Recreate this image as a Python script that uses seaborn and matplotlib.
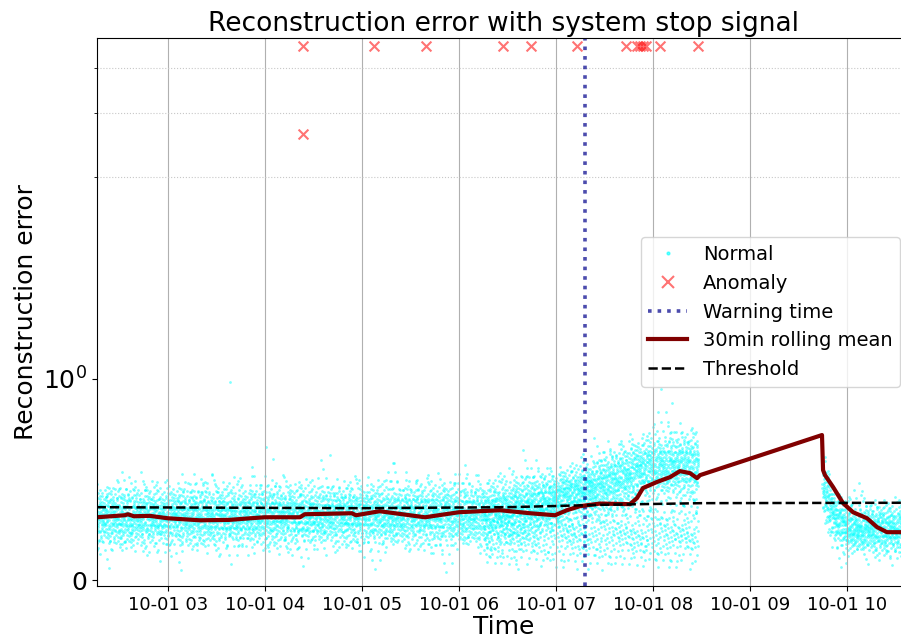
import numpy as np
import pandas as pd
import matplotlib
matplotlib.use("Agg")
import matplotlib.pyplot as plt
from matplotlib.ticker import FixedLocator, NullFormatter
from matplotlib.lines import Line2D
import seaborn as sns

DAY = "2023-10-01 "

# 30-minute rolling mean of the reconstruction error
rolling_times = ["02:16:05", "02:33:25", "02:35:17", "02:39:00", "02:48:50", "03:00:00",
                 "03:19:48", "03:38:00", "03:51:00", "04:00:00", "04:21:40", "04:24:40",
                 "04:53:50", "04:56:17", "05:11:00", "05:39:00", "06:00:00", "06:25:23",
                 "06:44:00", "06:59:24", "07:06:47", "07:14:49", "07:27:15", "07:45:47",
                 "07:50:06", "07:53:49", "08:02:28", "08:10:31", "08:16:41", "08:22:52",
                 "08:27:15", "08:29:06", "09:44:31", "09:45:10", "09:46:23", "09:51:22",
                 "09:57:32", "10:03:43", "10:12:22", "10:18:33", "10:24:43", "10:38:00"]
rolling_values = [0.313, 0.323, 0.328, 0.318, 0.320, 0.308,
                  0.298, 0.300, 0.308, 0.313, 0.313, 0.328,
                  0.333, 0.323, 0.343, 0.313, 0.338, 0.348,
                  0.333, 0.323, 0.348, 0.368, 0.381, 0.378,
                  0.408, 0.458, 0.488, 0.512, 0.542, 0.532,
                  0.507, 0.522, 0.721, 0.547, 0.522, 0.463,
                  0.383, 0.338, 0.308, 0.264, 0.239, 0.239]

# anomaly threshold
threshold_times = ["02:16:00", "05:00:00", "06:30:00", "07:30:00", "08:30:00", "10:38:00"]
threshold_values = [0.363, 0.358, 0.363, 0.375, 0.383, 0.385]

# detected anomalies
anomaly_times = ["04:23:30", "04:23:30", "05:07:24", "05:39:36", "06:27:12", "06:44:30",
                 "07:13:00", "07:43:18", "07:50:06", "07:52:00", "07:53:48", "07:55:40",
                 "08:04:18", "08:27:48"]
anomaly_values = [4.6, 2.64, 4.6, 4.6, 4.6, 4.6,
                  4.6, 4.6, 4.6, 4.6, 4.6, 4.6,
                  4.6, 4.6]

warning_time = "07:18:00"

# envelope of the normal-point cloud (hour of day, lower and upper error)
band_hours = [2.27, 6.25, 6.6, 7.0, 7.5, 8.0, 8.47, 9.74, 9.85, 10.0, 10.65]
band_low = [0.09, 0.10, 0.13, 0.21, 0.26, 0.32, 0.32, 0.27, 0.12, 0.07, 0.07]
band_high = [0.54, 0.56, 0.60, 0.60, 0.70, 0.82, 0.82, 0.72, 0.53, 0.45, 0.43]

# sparse low-error tail during the disturbance
tail_start, tail_end = "06:15:00", "08:28:00"
tail_low, tail_high = 0.04, 0.42

# isolated normal points away from the cloud
stray_times = ["03:38:30", "04:01:00", "03:52:00", "04:05:00", "04:40:00", "05:20:00", "08:05:00", "08:12:00"]
stray_values = [0.985, 0.66, 0.52, 0.60, 0.62, 0.58, 0.95, 0.88]


def ts(values):
    return pd.to_datetime([DAY + v for v in values])


def hours(idx):
    return np.asarray((idx - pd.Timestamp(DAY)).total_seconds() / 3600.0)


def weyl(n, a, shift=0.0):
    return (np.arange(n) * a + shift) % 1.0


# regular cloud of normal points, with every seventh point in a wider halo
cloud_t = pd.date_range(DAY + "02:16:12", DAY + "08:28:00", freq="4s").append(
    pd.date_range(DAY + "09:44:40", DAY + "10:38:00", freq="4s"))
h = hours(cloud_t)
lo = np.interp(h, band_hours, band_low)
hi = np.interp(h, band_hours, band_high)
m = len(cloud_t)
frac = (weyl(m, 0.6180339887) + weyl(m, 0.7548776662, 0.5) + weyl(m, 0.5698402910, 0.25)) / 3
mid = (lo + hi) / 2
spread = np.where(np.arange(m) % 7 == 0, 1.45, 1.0)
cloud_v = mid + (hi - lo) * (frac - 0.5) * spread
cloud_v = np.clip(cloud_v, 0.02, None)

# low tail: two-dimensional Kronecker layout over the window
k = 700
t0, t1 = pd.Timestamp(DAY + tail_start), pd.Timestamp(DAY + tail_end)
tail_t = t0 + (t1 - t0) * weyl(k, 0.7548776662, 0.1)
tail_u = (weyl(k, 0.5698402910, 0.3) + weyl(k, 0.4142135624, 0.7)) / 2
tail_v = tail_low + (tail_high - tail_low) * tail_u

normal = pd.DataFrame({
    "time": cloud_t.append(pd.DatetimeIndex(tail_t)).append(ts(stray_times)),
    "error": np.concatenate([cloud_v, tail_v, stray_values]),
})
anomalies = pd.DataFrame({"time": ts(anomaly_times), "error": anomaly_values})
rolling = pd.DataFrame({"time": ts(rolling_times), "error": rolling_values})
threshold = pd.DataFrame({"time": ts(threshold_times), "error": threshold_values})

fig = plt.figure(figsize=(9.01, 6.38), dpi=100)
ax = fig.add_axes([97 / 901, 1 - 586 / 638, (910 - 97) / 901, (586 - 38) / 638])

sns.scatterplot(data=normal, x="time", y="error", ax=ax, color="cyan", s=4,
                alpha=0.5, linewidth=0, label="Normal")
sns.scatterplot(data=anomalies, x="time", y="error", ax=ax, color="red", marker="x",
                s=50, alpha=0.55, linewidth=1.5, label="Anomaly")
ax.axvline(pd.Timestamp(DAY + warning_time), color="darkblue", linestyle=":",
           linewidth=2.6, alpha=0.7, label="Warning time")
sns.lineplot(data=rolling, x="time", y="error", ax=ax, color="#800000", linewidth=3,
             label="30min rolling mean")
sns.lineplot(data=threshold, x="time", y="error", ax=ax, color="black", linestyle="--",
             linewidth=1.8, label="Threshold")

ax.set_yscale("symlog", linthresh=2, linscale=1)
ax.set_ylim(-0.028, 4.84)
ax.set_xlim(pd.Timestamp(DAY + "02:16:12"), pd.Timestamp(DAY + "10:38:56"))
ax.yaxis.set_minor_locator(FixedLocator([2, 3, 4]))
ax.yaxis.set_minor_formatter(NullFormatter())
ax.grid(True, axis="x", color="#b0b0b0", linewidth=0.8)
ax.grid(True, axis="y", which="minor", color="#c8c8c8", linestyle=":", linewidth=0.8)
ax.grid(False, axis="y", which="major")

ax.set_title("Reconstruction error with system stop signal", fontsize=19, pad=5)
ax.set_xlabel("Time", fontsize=18, labelpad=1)
ax.set_ylabel("Reconstruction error", fontsize=18)
ax.tick_params(axis="x", labelsize=13)
ax.tick_params(axis="y", labelsize=18)

handles = [
    Line2D([], [], marker="o", linestyle="", color="cyan", markersize=2, alpha=0.6),
    Line2D([], [], marker="x", linestyle="", color="red", markersize=8, alpha=0.55, markeredgewidth=1.5),
    Line2D([], [], color="darkblue", linestyle=":", linewidth=2.6, alpha=0.7),
    Line2D([], [], color="#800000", linewidth=3),
    Line2D([], [], color="black", linestyle="--", linewidth=1.8),
]
labels = ["Normal", "Anomaly", "Warning time", "30min rolling mean", "Threshold"]
ax.legend(handles, labels, loc="center right", fontsize=14)

fig.savefig("out.png", dpi=100)
